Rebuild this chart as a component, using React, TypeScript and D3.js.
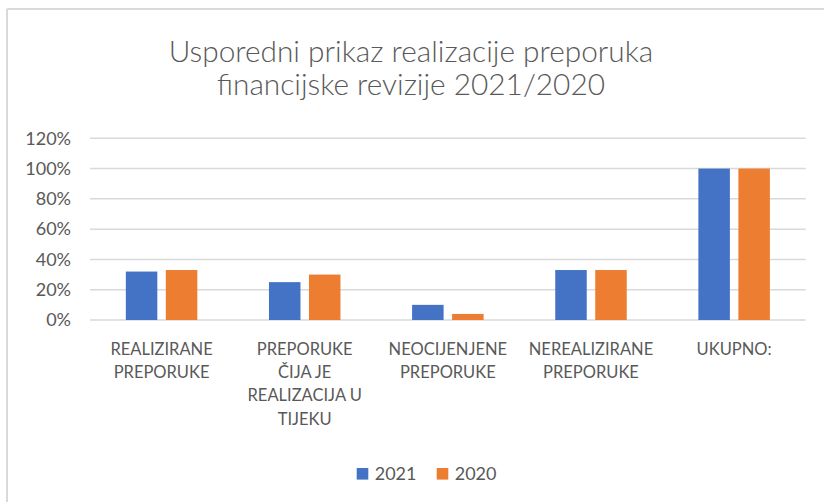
import React from "react";
import * as d3 from "d3";

const categories = [
  "REALIZIRANE PREPORUKE",
  "PREPORUKE ČIJA JE REALIZACIJA U TIJEKU",
  "NEOCIJENJENE PREPORUKE",
  "NEREALIZIRANE PREPORUKE",
  "UKUPNO:",
];
const categoryLines = [
  ["REALIZIRANE", "PREPORUKE"],
  ["PREPORUKE", "ČIJA JE", "REALIZACIJA U", "TIJEKU"],
  ["NEOCIJENJENE", "PREPORUKE"],
  ["NEREALIZIRANE", "PREPORUKE"],
  ["UKUPNO:"],
];
const seriesNames = ["2021", "2020"];
const values2021 = [0.32, 0.25, 0.1, 0.33, 1.0];
const values2020 = [0.33, 0.3, 0.04, 0.33, 1.0];
const yTicks = [0, 0.2, 0.4, 0.6, 0.8, 1.0, 1.2];
const titleLines = [
  "Usporedni prikaz realizacije preporuka",
  "financijske revizije 2021/2020",
];
const colors = ["#4472C4", "#ED7D31"];

const W = 824;
const H = 502;
const FONT = "Lato, 'Open Sans', sans-serif";
const TEXT = "#595959";

export default function App() {
  const left = 90;
  const right = 805.7;
  const bottom = 320;
  const top = 138.3;
  const x0 = d3.scaleBand<string>().domain(categories).range([left, right]).padding(0);
  const bw = x0.bandwidth();
  const outer = (bw - 71.5) / 2;
  const x1 = d3
    .scaleBand<string>()
    .domain(seriesNames)
    .range([outer, bw - outer])
    .paddingInner(0.2125)
    .paddingOuter(0);
  const y = d3.scaleLinear().domain([0, 1.2]).range([bottom, top]);
  const fmt = d3.format(".0%");
  const data = [values2021, values2020];

  return (
    <svg
      width={W}
      height={H}
      style={{ position: "absolute", left: 0, top: 0, background: "#fff" }}
      fontFamily={FONT}
    >
      <rect x={0} y={0} width={W} height={H} fill="#fff" />
      {/* chart border */}
      <line x1={7} y1={9} x2={W} y2={9} stroke="#d9d9d9" strokeWidth={2} />
      <line x1={7} y1={9} x2={7} y2={H} stroke="#d9d9d9" strokeWidth={2} />

      {/* title */}
      {titleLines.map((t, i) => (
        <text
          key={t}
          x={411}
          y={62 + i * 32.5}
          textAnchor="middle"
          fontSize={29.8}
          fontWeight={300}
          fill={TEXT}
        >
          {t}
        </text>
      ))}

      {/* grid + y ticks */}
      {yTicks.map((t) => (
        <g key={t}>
          <line
            x1={left}
            x2={right}
            y1={y(t)}
            y2={y(t)}
            stroke="#d9d9d9"
            strokeWidth={1.5}
          />
          <text
            x={71}
            y={y(t) + 6.3}
            textAnchor="end"
            fontSize={18}
            fill={TEXT}
          >
            {fmt(t)}
          </text>
        </g>
      ))}

      {/* bars */}
      {categories.map((c, ci) => (
        <g key={c} transform={`translate(${x0(c)},0)`}>
          {seriesNames.map((s, si) => {
            const v = data[si][ci];
            return (
              <rect
                key={s}
                x={x1(s)}
                y={y(v)}
                width={x1.bandwidth()}
                height={y(0) - y(v)}
                fill={colors[si]}
              />
            );
          })}
        </g>
      ))}

      {/* x labels */}
      {categories.map((c, ci) => (
        <text
          key={c}
          x={(x0(c) as number) + bw / 2}
          textAnchor="middle"
          fontSize={16.5}
          fill={TEXT}
        >
          {categoryLines[ci].map((l, li) => (
            <tspan key={li} x={(x0(c) as number) + bw / 2} y={354.7 + li * 23.3}>
              {l}
            </tspan>
          ))}
        </text>
      ))}

      {/* legend */}
      {seriesNames.map((s, si) => {
        const lx = [356.7, 436.7][si];
        return (
          <g key={s}>
            <rect x={lx} y={468} width={11.6} height={11.6} fill={colors[si]} />
            <text x={lx + 18} y={480} fontSize={18} fill={TEXT}>
              {s}
            </text>
          </g>
        );
      })}
    </svg>
  );
}
